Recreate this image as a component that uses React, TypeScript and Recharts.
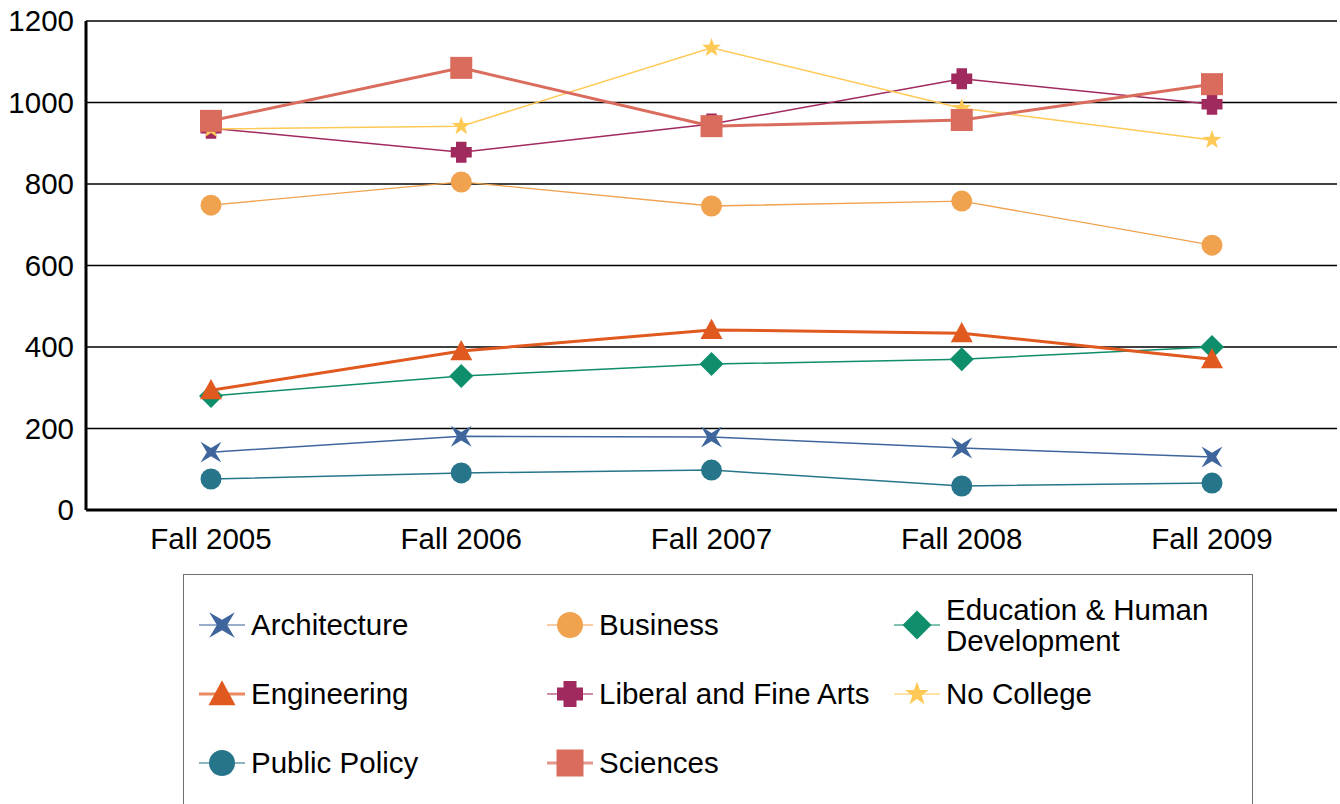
import React from "react";
import {
  LineChart,
  Line,
  XAxis,
  YAxis,
  CartesianGrid,
} from "recharts";

const categories = ["Fall 2005", "Fall 2006", "Fall 2007", "Fall 2008", "Fall 2009"];
const yTicks = [0, 200, 400, 600, 800, 1000, 1200];

const architecture = [142, 181, 179, 152, 130];
const business = [748, 805, 746, 758, 650];
const education = [280, 329, 358, 370, 400];
const engineering = [294, 390, 442, 434, 370];
const liberalArts = [937, 878, 947, 1058, 996];
const noCollege = [935, 942, 1134, 986, 908];
const publicPolicy = [76, 91, 98, 59, 66];
const sciences = [955, 1085, 942, 957, 1045];

type Kind = "star4" | "circle" | "diamond" | "triangle" | "cross" | "star5" | "square";

const seriesDefs: { key: string; name: string; values: number[]; color: string; kind: Kind; width: number }[] = [
  { key: "arch", name: "Architecture", values: architecture, color: "#3E669C", kind: "star4", width: 1.5 },
  { key: "bus", name: "Business", values: business, color: "#F0A24E", kind: "circle", width: 1.3 },
  { key: "edu", name: "Education & Human Development", values: education, color: "#0E8E6A", kind: "diamond", width: 1.5 },
  { key: "eng", name: "Engineering", values: engineering, color: "#E0591F", kind: "triangle", width: 3 },
  { key: "lib", name: "Liberal and Fine Arts", values: liberalArts, color: "#A0295E", kind: "cross", width: 1.5 },
  { key: "noc", name: "No College", values: noCollege, color: "#FFC955", kind: "star5", width: 1.5 },
  { key: "pp", name: "Public Policy", values: publicPolicy, color: "#27758A", kind: "circle", width: 1.5 },
  { key: "sci", name: "Sciences", values: sciences, color: "#DA6C5E", kind: "square", width: 3 },
];

const data = categories.map((c, i) => {
  const row: Record<string, number | string> = { cat: c };
  seriesDefs.forEach((s) => {
    row[s.key] = s.values[i];
  });
  return row;
});

function starPath(cx: number, cy: number, points: number, outer: number, inner: number) {
  let d = "";
  for (let i = 0; i < points * 2; i++) {
    const r = i % 2 === 0 ? outer : inner;
    const a = -Math.PI / 2 + (i * Math.PI) / points;
    d += (i === 0 ? "M" : "L") + (cx + r * Math.cos(a)).toFixed(2) + "," + (cy + r * Math.sin(a)).toFixed(2);
  }
  return d + "Z";
}

function Marker({ kind, cx, cy, size, color }: { kind: Kind; cx: number; cy: number; size: number; color: string }) {
  const h = size / 2;
  switch (kind) {
    case "circle":
      return <circle cx={cx} cy={cy} r={h} fill={color} />;
    case "square":
      return <rect x={cx - h} y={cy - h} width={size} height={size} fill={color} />;
    case "diamond":
      return <path d={`M${cx},${cy - h}L${cx + h},${cy}L${cx},${cy + h}L${cx - h},${cy}Z`} fill={color} />;
    case "triangle": {
      const th = size * 0.92;
      return <path d={`M${cx},${cy - th * 0.55}L${cx + h},${cy + th * 0.45}L${cx - h},${cy + th * 0.45}Z`} fill={color} />;
    }
    case "cross": {
      const w = h * 0.5;
      return (
        <path
          d={`M${cx - w},${cy - h}H${cx + w}V${cy - w}H${cx + h}V${cy + w}H${cx + w}V${cy + h}H${cx - w}V${cy + w}H${cx - h}V${cy - w}H${cx - w}Z`}
          fill={color}
        />
      );
    }
    case "star5":
      return <path d={starPath(cx, cy, 5, h * 1.05, h * 0.42)} fill={color} />;
    case "star4": {
      const s = h * 0.95;
      const i = h * 0.38;
      return (
        <path
          d={`M${cx - s},${cy - s}L${cx},${cy - i}L${cx + s},${cy - s}L${cx + i},${cy}L${cx + s},${cy + s}L${cx},${cy + i}L${cx - s},${cy + s}L${cx - i},${cy}Z`}
          fill={color}
        />
      );
    }
  }
  return null;
}

const markerSize: Record<Kind, number> = {
  star4: 22,
  circle: 21,
  diamond: 24,
  triangle: 22,
  cross: 21,
  star5: 19,
  square: 22,
};

const FONT = "'Liberation Sans', Arial, sans-serif";
const FS = 29.5;

function LegendItem({ s }: { s: (typeof seriesDefs)[number] }) {
  const twoLine = s.name === "Education & Human Development";
  return (
    <div style={{ display: "flex", alignItems: "center", height: 69 }}>
      <svg width={52} height={40} style={{ flex: "0 0 auto" }}>
        <line x1={3} x2={49} y1={20} y2={20} stroke={s.color} strokeWidth={s.width >= 3 ? 3 : 1.5} opacity={0.7} />
        <Marker kind={s.kind} cx={26} cy={20} size={markerSize[s.kind] + 5} color={s.color} />
      </svg>
      <div
        style={{
          marginLeft: 3,
          fontFamily: FONT,
          fontSize: FS,
          lineHeight: "31px",
          color: "#000",
          whiteSpace: "nowrap",
        }}
      >
        {twoLine ? (
          <>
            Education &amp; Human
            <br />
            Development
          </>
        ) : (
          s.name
        )}
      </div>
    </div>
  );
}

export default function App() {
  return (
    <div
      style={{
        position: "absolute",
        left: 0,
        top: 0,
        width: 1340,
        height: 804,
        overflow: "hidden",
        background: "#fff",
      }}
    >
      <LineChart
        width={1340}
        height={560}
        data={data}
        margin={{ top: 21, right: 3, left: 0, bottom: 0 }}
      >
        <CartesianGrid vertical={false} stroke="#000" strokeWidth={1.5} />
        <XAxis
          dataKey="cat"
          height={50}
          padding={{ left: 125, right: 125 }}
          tickLine={false}
          tickSize={0}
          tickMargin={18}
          axisLine={{ stroke: "#000", strokeWidth: 3 }}
          tick={{ fill: "#000", fontSize: FS, fontFamily: FONT }}
          interval={0}
        />
        <YAxis
          width={86}
          domain={[0, 1200]}
          ticks={yTicks}
          tickLine={false}
          tickSize={0}
          tickMargin={12}
          axisLine={{ stroke: "#000", strokeWidth: 3 }}
          tick={{ fill: "#000", fontSize: FS, fontFamily: FONT }}
          interval={0}
        />
        <YAxis
          yAxisId="right"
          orientation="right"
          width={0}
          domain={[0, 1200]}
          tick={false}
          tickLine={false}
          axisLine={{ stroke: "#000", strokeWidth: 1.5 }}
        />
        {seriesDefs.map((s) => (
          <Line
            key={s.key}
            dataKey={s.key}
            name={s.name}
            stroke={s.color}
            strokeWidth={s.width}
            isAnimationActive={false}
            dot={(p: any) => (
              <Marker
                key={`${s.key}-${p.index}`}
                kind={s.kind}
                cx={p.cx}
                cy={p.cy}
                size={markerSize[s.kind]}
                color={s.color}
              />
            )}
            activeDot={false}
          />
        ))}
      </LineChart>
      <div
        style={{
          position: "absolute",
          left: 183,
          top: 574,
          width: 1070,
          height: 260,
          border: "1.5px solid #707070",
          boxSizing: "border-box",
          display: "grid",
          gridTemplateColumns: "348px 347px 1fr",
          gridAutoRows: "69px",
          alignContent: "start",
          paddingLeft: 12,
          paddingTop: 15,
        }}
      >
        {seriesDefs.map((s) => (
          <LegendItem key={s.key} s={s} />
        ))}
      </div>
    </div>
  );
}
